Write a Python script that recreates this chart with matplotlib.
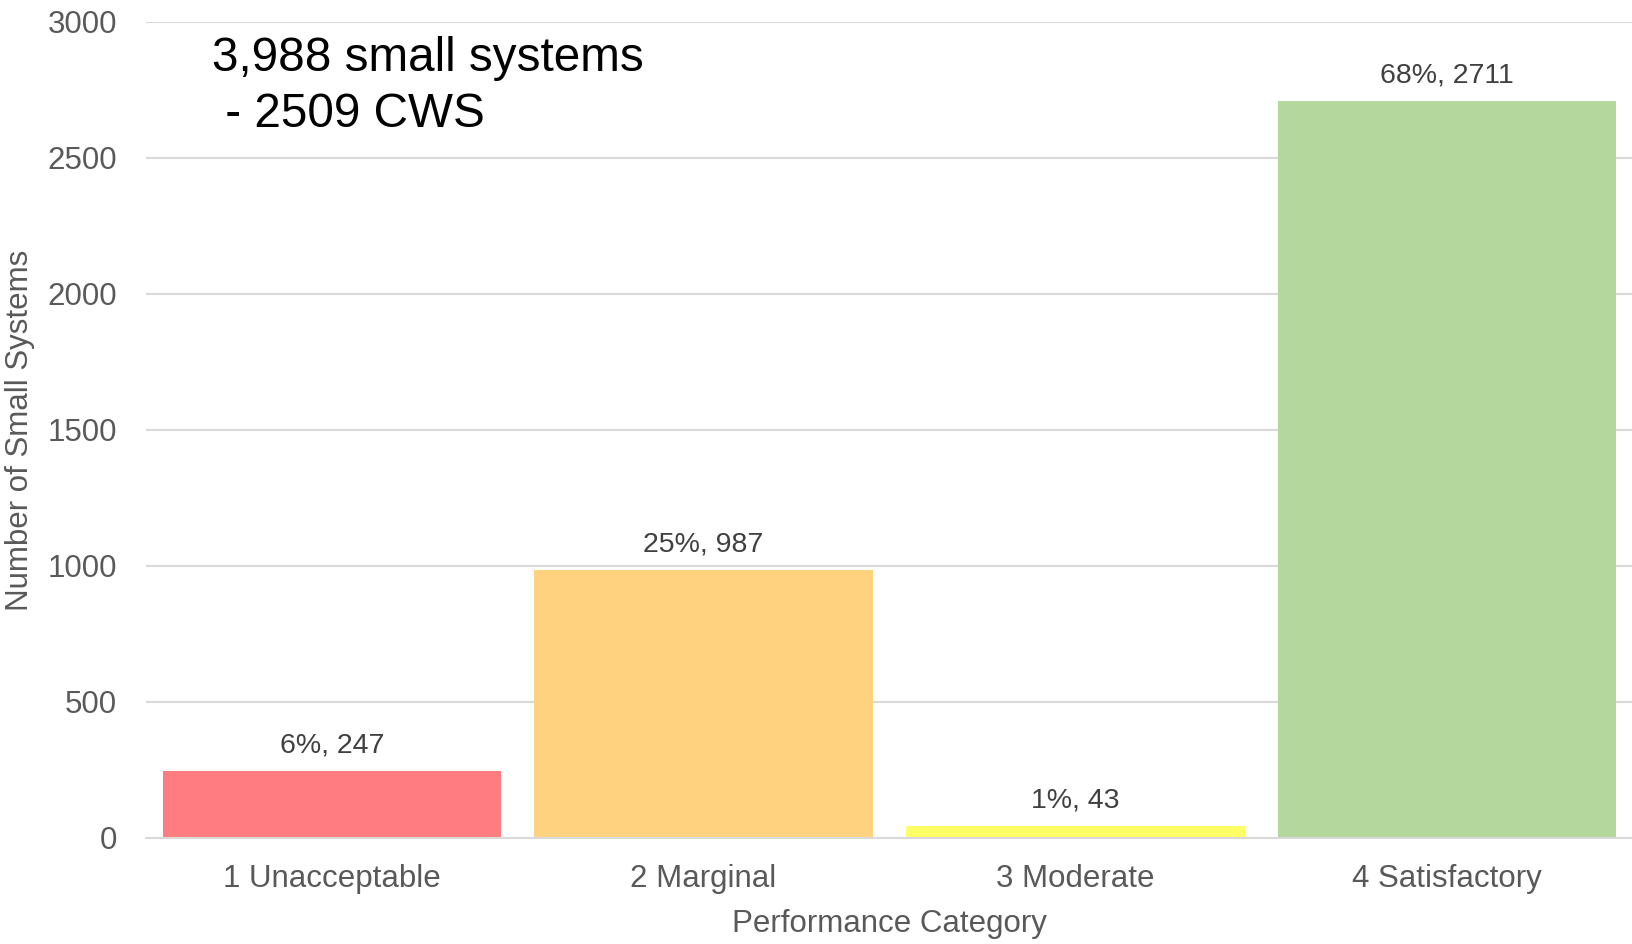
import numpy as np
import matplotlib
matplotlib.use("Agg")
import matplotlib.pyplot as plt

plt.rcParams['font.family'] = ['Liberation Sans', 'DejaVu Sans']

# datos de la gráfica
categorias = ["1 Unacceptable", "2 Marginal", "3 Moderate", "4 Satisfactory"]
sistemas = [247, 987, 43, 2711]
porcentajes = [6, 25, 1, 68]
colores = ["#FF7C80", "#FFD280", "#FFFF66", "#B4D79D"]
ticks_y = [0, 500, 1000, 1500, 2000, 2500, 3000]

fig = plt.figure(figsize=(16.33, 9.44), dpi=100)
ax = fig.add_axes([0.0894, 0.1123, 0.9106, 0.8644])

x = np.arange(len(categorias))
barras = ax.bar(x, sistemas, width=0.91, color=colores, zorder=2)

# etiquetas de cada barra: porcentaje y número de sistemas
for xi, n, p in zip(x, sistemas, porcentajes):
    ax.annotate(f"{p}%, {n}", (xi, n), xytext=(0, 9), textcoords="offset points",
                ha="center", va="bottom", fontsize=20.5, color="#404040")

ax.set_xlim(-0.5, 3.5)
ax.set_ylim(0, 3000)
ax.set_yticks(ticks_y)
ax.set_xticks(x)
ax.set_xticklabels(categorias)
ax.tick_params(axis="both", length=0, labelsize=22.5, labelcolor="#595959")
ax.tick_params(axis="y", pad=21)
ax.tick_params(axis="x", pad=18.5)
ax.grid(axis="y", color="#D9D9D9", linewidth=1.5, zorder=0)
ax.set_axisbelow(True)
for lado in ["top", "right", "left"]:
    ax.spines[lado].set_visible(False)
ax.spines["bottom"].set_color("#D9D9D9")
ax.spines["bottom"].set_linewidth(1.5)

ax.set_xlabel("Performance Category", fontsize=22.5, color="#595959", labelpad=11)
ax.set_ylabel("Number of Small Systems", fontsize=22.5, color="#595959", labelpad=9)

# texto resumen arriba a la izquierda
fig.text(0.1298, 0.9248, "3,988 small systems", fontsize=34.3, color="black",
         ha="left", va="baseline")
fig.text(0.1298, 0.8655, " - 2509 CWS", fontsize=34.3, color="black",
         ha="left", va="baseline")

fig.savefig("out.png", dpi=100, facecolor="white")
